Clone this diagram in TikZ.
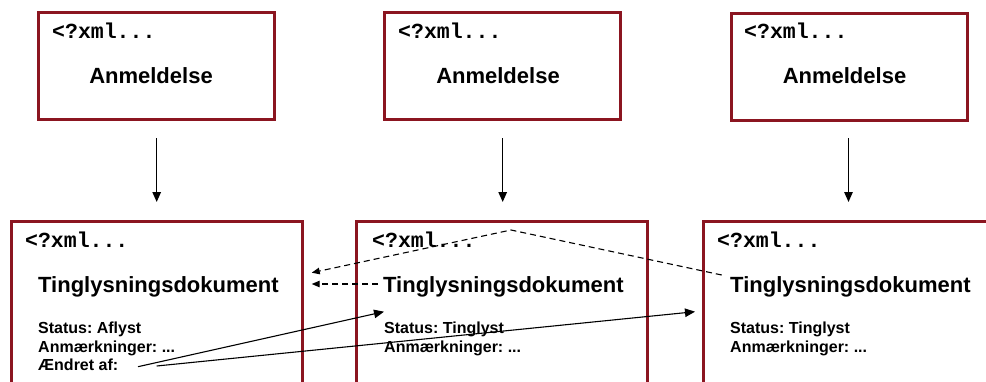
\documentclass[tikz,border=0pt]{standalone}
\usepackage{fontspec}
\setmainfont{Liberation Sans}
\setmonofont{Liberation Mono}
\usetikzlibrary{arrows.meta}
\definecolor{boxred}{RGB}{139,21,32}
\frenchspacing
\begin{document}
\begin{tikzpicture}[x=1pt,y=-1pt,
  box/.style={draw=boxred,line width=3pt,inner sep=0pt,outer sep=0pt},
  xmltxt/.style={anchor=base west,inner sep=0pt,font=\fontsize{21.5}{24}\selectfont\ttfamily\bfseries},
  anmtxt/.style={anchor=base,inner sep=0pt,font=\fontsize{22}{26}\selectfont\bfseries},
  titletxt/.style={anchor=base west,inner sep=0pt,font=\fontsize{22}{26}\selectfont\bfseries},
  fieldtxt/.style={anchor=base west,inner sep=0pt,font=\fontsize{16}{19}\selectfont\bfseries},
  arr/.style={-{Triangle[length=10pt,width=8.5pt]},line width=1.3pt},
  darr/.style={-{Triangle[length=8pt,width=6.5pt]},line width=1.1pt,dash pattern=on 6pt off 4pt}]
\useasboundingbox (0,0) rectangle (986,381);
\clip (0,0) rectangle (986,381);
% top boxes
\node[box,minimum width=236.5pt,minimum height=106.7pt] (a1) at (156.25,65.65) {};
\node[box,minimum width=235.7pt,minimum height=106.7pt] (a2) at (502.15,65.65) {};
\node[box,minimum width=235.6pt,minimum height=106.7pt] (a3) at (849.5,66.65) {};
\node[xmltxt] (ax1) at (52,38) {<?xml...};
\node[xmltxt] (ax2) at (398,38) {<?xml...};
\node[xmltxt] (ax3) at (744,38) {<?xml...};
\node[anmtxt] (an1) at (151,83) {Anmeldelse};
\node[anmtxt] (an2) at (498,83) {Anmeldelse};
\node[anmtxt] (an3) at (844.5,83) {Anmeldelse};
% bottom boxes
\node[box,minimum width=291.7pt,minimum height=200pt] (t1) at (156.85,321) {};
\node[box,minimum width=291pt,minimum height=200pt] (t2) at (502.2,321) {};
\node[box,minimum width=300pt,minimum height=200pt] (t3) at (853.3,321) {};
\node[xmltxt] (tx1) at (25,247) {<?xml...};
\node[xmltxt] (tx2) at (372,247) {<?xml...};
\node[xmltxt] (tx3) at (717,247) {<?xml...};
\node[titletxt] (tt1) at (38,292) {Tinglysningsdokument};
\node[titletxt] (tt2) at (383,292) {Tinglysningsdokument};
\node[titletxt] (tt3) at (730,292) {Tinglysningsdokument};
\node[fieldtxt] (s1) at (38,333) {Status: Aflyst};
\node[fieldtxt] (m1) at (38,352) {Anmærkninger: ...};
\node[fieldtxt] (e1) at (38,370.5) {Ændret af:};
\node[fieldtxt] (s2) at (384,333) {Status: Tinglyst};
\node[fieldtxt] (m2) at (384,352) {Anmærkninger: ...};
\node[fieldtxt] (s3) at (730,333) {Status: Tinglyst};
\node[fieldtxt] (m3) at (730,352) {Anmærkninger: ...};
% vertical arrows
\coordinate (v1s) at (156.7,138); \coordinate (v1e) at (156.7,202);
\coordinate (v2s) at (502.7,138); \coordinate (v2e) at (502.7,202);
\coordinate (v3s) at (848.5,138); \coordinate (v3e) at (848.5,202);
\draw[arr] (v1s) -- (v1e);
\draw[arr] (v2s) -- (v2e);
\draw[arr] (v3s) -- (v3e);
% dashed references
\coordinate (d1s) at (721.7,275);
\coordinate (d1m) at (511,230);
\coordinate (d1e) at (311.7,272.7);
\coordinate (d2s) at (378,284);
\coordinate (d2e) at (311.7,284);
\draw[darr] (d1s) -- (d1m) -- (d1e);
\draw[darr] (d2s) -- (d2e);
% solid links from "Ændret af:"
\coordinate (l1s) at (138,366.7); \coordinate (l1e) at (384,311.7);
\coordinate (l2s) at (156.7,366); \coordinate (l2e) at (695,311.7);
\draw[arr,line width=1.1pt] (l1s) -- (l1e);
\draw[arr,line width=1.1pt] (l2s) -- (l2e);
\end{tikzpicture}
\end{document}
